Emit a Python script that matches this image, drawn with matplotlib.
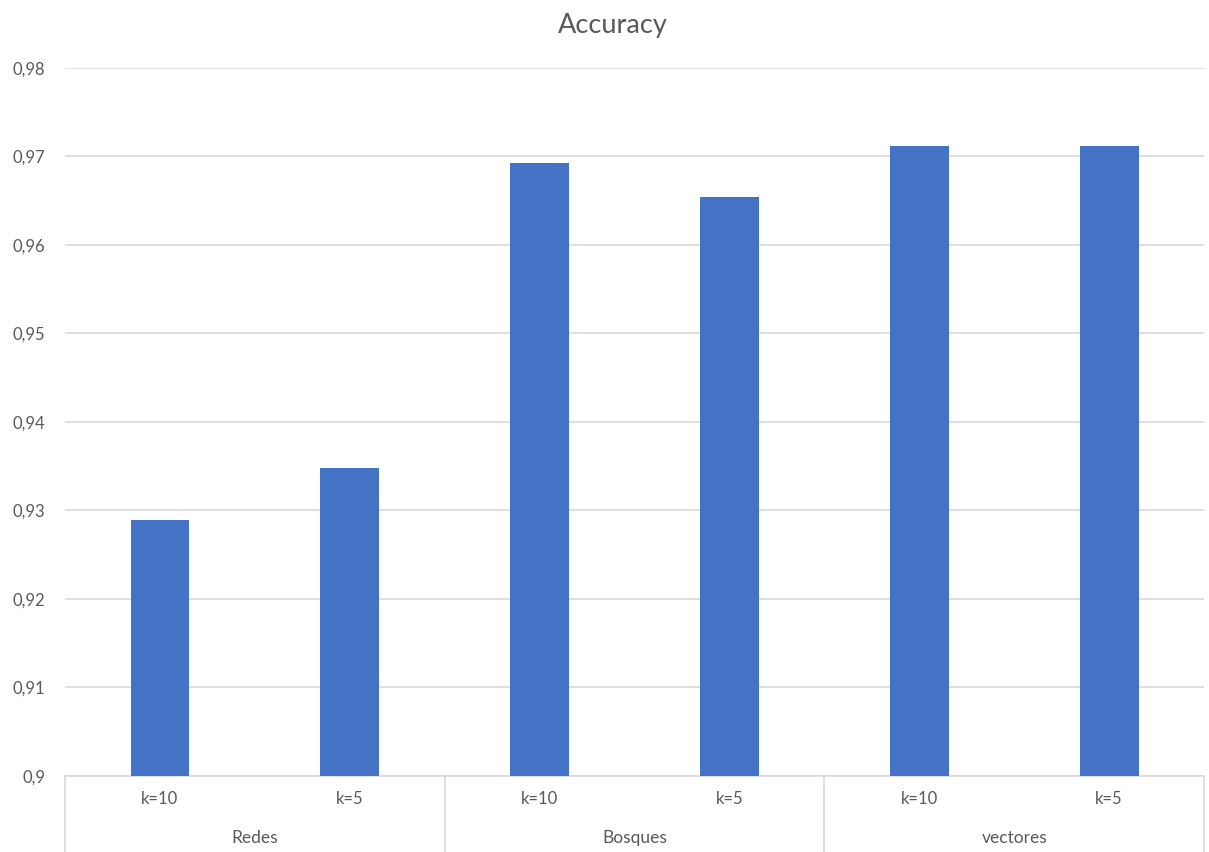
import matplotlib
matplotlib.use("Agg")
import matplotlib.pyplot as plt
import matplotlib.transforms as mtransforms
from matplotlib.ticker import FuncFormatter, MultipleLocator

groups = ["Redes", "Bosques", "vectores"]
folds = ["k=10", "k=5"]
accuracy = [0.9289, 0.9348, 0.9692, 0.9654, 0.9712, 0.9712]

plt.rcParams["font.family"] = ["Lato", "DejaVu Sans"]
text_color = "#595959"
line_color = "#d9d9d9"

fig = plt.figure(figsize=(12.09, 8.52), dpi=100)
ax = fig.add_axes([0.0538, 0.0896, 0.9421, 0.8309])

labels = [f for g in groups for f in folds]
x = list(range(len(labels)))
ax.bar(x, accuracy, width=0.31, color="#4472c4", zorder=3)

ax.set_xlim(-0.5, len(labels) - 0.5)
ax.set_ylim(0.9, 0.98)
ax.yaxis.set_major_locator(MultipleLocator(0.01))
ax.yaxis.set_major_formatter(FuncFormatter(lambda v, p: f"{v:.2f}".rstrip("0").replace(".", ",") if abs(v - 0.9) > 1e-9 else "0,9"))
ax.grid(axis="y", color=line_color, linewidth=1.2, zorder=0)
ax.tick_params(axis="y", length=0, pad=14, labelsize=12, labelcolor=text_color)
ax.set_xticks([])

for s in ["top", "right", "left"]:
    ax.spines[s].set_visible(False)
ax.spines["bottom"].set_color(line_color)
ax.spines["bottom"].set_linewidth(1.2)

# category labels below axis
trans = mtransforms.blended_transform_factory(ax.transData, ax.transAxes)
for xi, lab in zip(x, labels):
    ax.text(xi, -0.033, lab, transform=trans, ha="center", va="center",
            fontsize=12, color=text_color)
for gi, g in enumerate(groups):
    ax.text(gi * 2 + 0.5, -0.0885, g, transform=trans, ha="center", va="center",
            fontsize=12.5, color=text_color)

# group separators
for b in [-0.5, 1.5, 3.5, 5.5]:
    ax.plot([b, b], [0, -0.11], transform=trans, color=line_color,
            linewidth=1.2, clip_on=False)

fig.text(0.5068, 0.970, "Accuracy", ha="center", va="center", fontsize=19.5,
         color=text_color)

fig.savefig("out.png", dpi=100, facecolor="white")
